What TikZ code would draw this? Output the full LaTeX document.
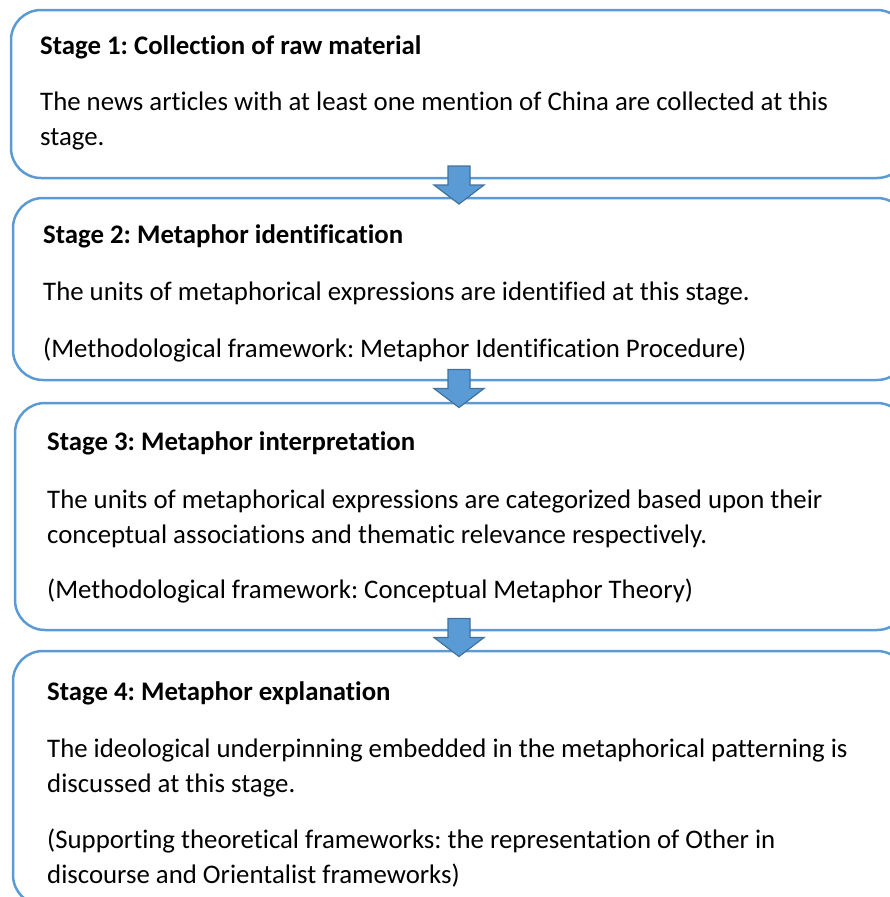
\documentclass[tikz,border=0pt]{standalone}
\usepackage{fontspec}
\setmainfont[Ligatures=NoCommon]{Carlito}
\usetikzlibrary{calc}
\frenchspacing

\definecolor{boxblue}{HTML}{5B9BD5}
\definecolor{arrowline}{HTML}{41719C}

\tikzset{
    stagebox/.style={draw=boxblue, line width=2.5pt, rounded corners=30pt,
        inner sep=0pt, minimum width=#1},
    stagebox/.default=894pt,
    stagetitle/.style={anchor=base west, inner sep=0pt, font=\fontsize{26.8}{32}\selectfont\bfseries},
    stagetext/.style={anchor=base west, inner sep=0pt, font=\fontsize{26.8}{32}\selectfont},
    blockarrow/.style={fill=boxblue, draw=arrowline, line width=1.2pt, line join=miter}
}

\begin{document}
\begin{tikzpicture}[x=1pt, y=-1pt]
    \useasboundingbox (0,0) rectangle (890,897);
    \clip (0,0) rectangle (890,897);

    % --- Stage boxes ---
    \node[stagebox=896pt, minimum height=168pt] (s1) at (459,94) {};
    \node[stagebox=894pt, minimum height=182pt] (s2) at (460,289) {};
    \node[stagebox=892pt, minimum height=227pt] (s3) at (461,516.5) {};
    \node[stagebox=894pt, minimum height=254pt] (s4) at (460,778) {};

    % Stage 1
    \node[stagetitle] (t1) at (40,54) {Stage 1: Collection of raw material};
    \node[stagetext] (b1a) at (40,110) {The news articles with at least one mention of China are collected at this};
    \node[stagetext] (b1b) at (40,145) {stage.};

    % Stage 2
    \node[stagetitle] (t2) at (43,243) {Stage 2: Metaphor identification};
    \node[stagetext] (b2a) at (43,300) {The units of metaphorical expressions are identified at this stage.};
    \node[stagetext] (b2b) at (43,357) {(Methodological framework: Metaphor Identification Procedure)};

    % Stage 3
    \node[stagetitle] (t3) at (47,450) {Stage 3: Metaphor interpretation};
    \node[stagetext] (b3a) at (47,508) {The units of metaphorical expressions are categorized based upon their};
    \node[stagetext] (b3b) at (47,543) {conceptual associations and thematic relevance respectively.};
    \node[stagetext] (b3c) at (47,598) {(Methodological framework: Conceptual Metaphor Theory)};

    % Stage 4
    \node[stagetitle] (t4) at (47,700) {Stage 4: Metaphor explanation};
    \node[stagetext] (b4a) at (47,757) {The ideological underpinning embedded in the metaphorical patterning is};
    \node[stagetext] (b4b) at (47,792) {discussed at this stage.};
    \node[stagetext] (b4c) at (47,848) {(Supporting theoretical frameworks: the representation of Other in};
    \node[stagetext] (b4d) at (47,883) {discourse and Orientalist frameworks)};

    % --- Block arrows between the stages ---
    \foreach \a/\b in {s1/s2, s2/s3, s3/s4} {
        \coordinate (m) at ($(\a.south)!0.5!(\b.north)$);
        \coordinate (m) at (459,0 |- m);
        \draw[blockarrow] ($(m)+(-11,-22)$) -- ($(m)+(11,-22)$) -- ($(m)+(11,-3)$)
            -- ($(m)+(25,-3)$) -- ($(m)+(0,16)$) -- ($(m)+(-25,-3)$)
            -- ($(m)+(-11,-3)$) -- cycle;
    }
\end{tikzpicture}
\end{document}
